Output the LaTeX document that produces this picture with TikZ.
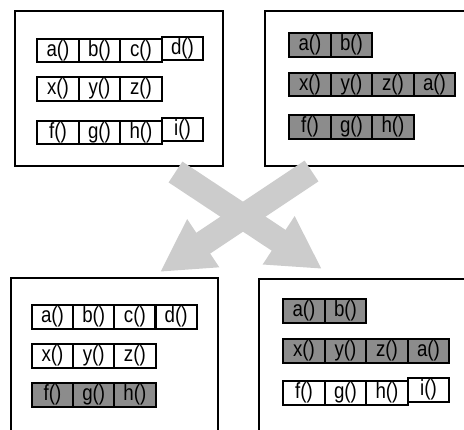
\documentclass[tikz,border=0pt]{standalone}
\usepackage{fontspec}
\newfontfamily\cellfont[FakeStretch=0.85]{Liberation Sans}
\usetikzlibrary{arrows.meta}
\definecolor{cellgray}{RGB}{140,140,140}
\definecolor{arrowgray}{RGB}{204,204,204}
\begin{document}
\begin{tikzpicture}[x=1pt,y=-1pt,line join=miter,
  frame/.style={draw,line width=2pt},
  cell/.style={draw,line width=2pt,minimum width=41.5pt,minimum height=23.5pt,
               inner sep=0pt,font=\cellfont\fontsize{22}{22}\selectfont},
  dark/.style={cell,fill=cellgray},
  cross/.style={draw=arrowgray,line width=25pt,-{Triangle[width=54pt,length=52pt]}}]
\useasboundingbox (0,0) rectangle (464,430);
\clip (0,0) rectangle (464,430);
% four frames
\draw[frame] (15,11) rectangle (223,166);
\draw[frame] (265,11) rectangle (470,166);
\draw[frame] (11,278) rectangle (218,440);
\draw[frame] (259,279) rectangle (470,440);
% top left
\foreach \k/\lbl in {0/a,1/b,2/c}
  \node[cell] (tl-\lbl) at (58+41.5*\k,50.5) {\lbl()};
\node[cell,yshift=2pt] (tl-d) at (182.5,50.5) {d()};
\foreach \k/\lbl in {0/x,1/y,2/z}
  \node[cell] (tl-\lbl) at (58+41.5*\k,89) {\lbl()};
\foreach \k/\lbl in {0/f,1/g,2/h}
  \node[cell] (tl-\lbl) at (58+41.5*\k,132.5) {\lbl()};
\node[cell,yshift=3pt] (tl-i) at (182.5,132.5) {i()};
% top right
\foreach \k/\lbl in {0/a,1/b}
  \node[dark] (tr-\lbl) at (310+41.5*\k,45) {\lbl()};
\foreach \k/\nm/\lbl in {0/x/x,1/y/y,2/z/z,3/a2/a}
  \node[dark] (tr-\nm) at (310+41.5*\k,84.5) {\lbl()};
\foreach \k/\lbl in {0/f,1/g,2/h}
  \node[dark] (tr-\lbl) at (310+41.5*\k,127) {\lbl()};
% bottom left
\foreach \k/\lbl in {0/a,1/b,2/c,3/d}
  \node[cell] (bl-\lbl) at (52.5+41.2*\k,317) {\lbl()};
\foreach \k/\lbl in {0/x,1/y,2/z}
  \node[cell] (bl-\lbl) at (52.5+41.2*\k,356) {\lbl()};
\foreach \k/\lbl in {0/f,1/g,2/h}
  \node[dark] (bl-\lbl) at (52.5+41.2*\k,395) {\lbl()};
% bottom right
\foreach \k/\lbl in {0/a,1/b}
  \node[dark] (br-\lbl) at (304+41.5*\k,311) {\lbl()};
\foreach \k/\nm/\lbl in {0/x/x,1/y/y,2/z/z,3/a2/a}
  \node[dark] (br-\nm) at (304+41.5*\k,351) {\lbl()};
\foreach \k/\lbl in {0/f,1/g,2/h}
  \node[cell] (br-\lbl) at (304+41.5*\k,393) {\lbl()};
\node[cell,yshift=3pt] (br-i) at (428.5,393) {i()};
% the crossing arrows
\coordinate (from-tr) at (311.5,171);
\coordinate (to-bl) at (160,272);
\coordinate (from-tl) at (175.5,172);
\coordinate (to-br) at (322,269);
\draw[cross] (from-tr) -- (to-bl);
\draw[cross] (from-tl) -- (to-br);
\end{tikzpicture}
\end{document}
